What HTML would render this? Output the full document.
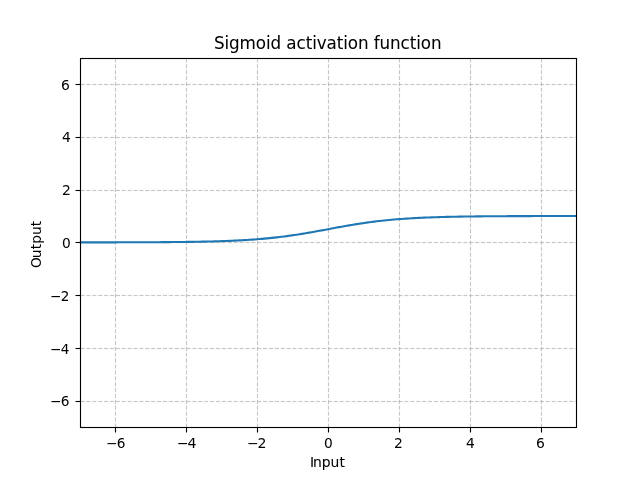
<!DOCTYPE html>
<html lang="en">
<head>
<meta charset="utf-8">
<title>Sigmoid activation function</title>
<style>
html,body{margin:0;padding:0;background:#fff;overflow:hidden}
svg{display:block}
text{font-family:"DejaVu Sans","Liberation Sans",sans-serif;fill:#000}
.g{fill:none;stroke:#b0b0b0;stroke-opacity:.71;stroke-width:1.111;stroke-dasharray:4.111 1.778}
.f{fill:none;stroke:#b0b0b0;stroke-opacity:.05;stroke-width:1;stroke-dasharray:4.111 1.778}
.k{stroke:#000;stroke-width:1.111;fill:none}
</style>
</head>
<body>
<svg width="640" height="480" viewBox="0 0 640 480">
<rect width="640" height="480" fill="#fff"/>
<defs><clipPath id="ax"><rect x="80" y="57.6" width="496" height="369.6"/></clipPath></defs>
<g class="g">
<path d="M115.5 427.5V58.5"/>
<path d="M186.5 427.5V58.5"/>
<path d="M257.5 427.5V58.5"/>
<path d="M328.5 427.5V58.5"/>
<path d="M399.5 427.5V58.5"/>
<path d="M470.5 427.5V58.5"/>
<path d="M541.5 427.5V58.5"/>
<path d="M80.5 401.5H576.5"/>
<path d="M80.5 348.5H576.5"/>
<path d="M80.5 295.5H576.5"/>
<path d="M80.5 242.5H576.5"/>
<path d="M80.5 190.5H576.5"/>
<path d="M80.5 137.5H576.5"/>
<path d="M80.5 84.5H576.5"/>
</g>
<g class="f">
<path d="M80.5 400.5H576.5M80.5 402.5H576.5"/>
<path d="M80.5 347.5H576.5M80.5 349.5H576.5"/>
<path d="M80.5 294.5H576.5M80.5 296.5H576.5"/>
<path d="M80.5 241.5H576.5M80.5 243.5H576.5"/>
<path d="M80.5 189.5H576.5M80.5 191.5H576.5"/>
<path d="M80.5 136.5H576.5M80.5 138.5H576.5"/>
<path d="M80.5 83.5H576.5M80.5 85.5H576.5"/>
</g>
<g class="k">
<path d="M115.5 427.5V432.5"/>
<path d="M186.5 427.5V432.5"/>
<path d="M257.5 427.5V432.5"/>
<path d="M328.5 427.5V432.5"/>
<path d="M399.5 427.5V432.5"/>
<path d="M470.5 427.5V432.5"/>
<path d="M541.5 427.5V432.5"/>
<path d="M80.5 401.5H75.5"/>
<path d="M80.5 348.5H75.5"/>
<path d="M80.5 295.5H75.5"/>
<path d="M80.5 242.5H75.5"/>
<path d="M80.5 190.5H75.5"/>
<path d="M80.5 137.5H75.5"/>
<path d="M80.5 84.5H75.5"/>
</g>
<polyline clip-path="url(#ax)" fill="none" stroke="#1f77b4" stroke-width="2.083" stroke-linejoin="round" stroke-linecap="square" points="80.00,242.38 82.49,242.37 84.98,242.37 87.48,242.37 89.97,242.37 92.46,242.37 94.95,242.36 97.45,242.36 99.94,242.36 102.43,242.35 104.92,242.35 107.42,242.35 109.91,242.34 112.40,242.34 114.89,242.34 117.39,242.33 119.88,242.33 122.37,242.32 124.86,242.31 127.36,242.31 129.85,242.30 132.34,242.29 134.83,242.29 137.33,242.28 139.82,242.27 142.31,242.26 144.80,242.25 147.30,242.24 149.79,242.23 152.28,242.22 154.77,242.20 157.27,242.19 159.76,242.17 162.25,242.16 164.74,242.14 167.24,242.12 169.73,242.10 172.22,242.08 174.71,242.06 177.21,242.03 179.70,242.00 182.19,241.98 184.68,241.95 187.18,241.91 189.67,241.88 192.16,241.84 194.65,241.80 197.15,241.76 199.64,241.71 202.13,241.66 204.62,241.61 207.12,241.56 209.61,241.50 212.10,241.43 214.59,241.37 217.09,241.29 219.58,241.22 222.07,241.14 224.56,241.05 227.06,240.96 229.55,240.86 232.04,240.75 234.53,240.64 237.03,240.52 239.52,240.39 242.01,240.26 244.50,240.12 246.99,239.96 249.49,239.80 251.98,239.64 254.47,239.46 256.96,239.27 259.46,239.07 261.95,238.86 264.44,238.64 266.93,238.40 269.43,238.16 271.92,237.90 274.41,237.63 276.90,237.35 279.40,237.06 281.89,236.75 284.38,236.43 286.87,236.10 289.37,235.76 291.86,235.40 294.35,235.04 296.84,234.66 299.34,234.27 301.83,233.87 304.32,233.45 306.81,233.03 309.31,232.60 311.80,232.17 314.29,231.72 316.78,231.27 319.28,230.82 321.77,230.36 324.26,229.90 326.75,229.43 329.25,228.97 331.74,228.50 334.23,228.04 336.72,227.58 339.22,227.13 341.71,226.68 344.20,226.23 346.69,225.80 349.19,225.37 351.68,224.95 354.17,224.53 356.66,224.13 359.16,223.74 361.65,223.36 364.14,223.00 366.63,222.64 369.13,222.30 371.62,221.97 374.11,221.65 376.60,221.34 379.10,221.05 381.59,220.77 384.08,220.50 386.57,220.24 389.07,220.00 391.56,219.76 394.05,219.54 396.54,219.33 399.04,219.13 401.53,218.94 404.02,218.76 406.51,218.60 409.01,218.44 411.50,218.28 413.99,218.14 416.48,218.01 418.97,217.88 421.47,217.76 423.96,217.65 426.45,217.54 428.94,217.44 431.44,217.35 433.93,217.26 436.42,217.18 438.91,217.11 441.41,217.03 443.90,216.97 446.39,216.90 448.88,216.84 451.38,216.79 453.87,216.74 456.36,216.69 458.85,216.64 461.35,216.60 463.84,216.56 466.33,216.52 468.82,216.49 471.32,216.45 473.81,216.42 476.30,216.40 478.79,216.37 481.29,216.34 483.78,216.32 486.27,216.30 488.76,216.28 491.26,216.26 493.75,216.24 496.24,216.23 498.73,216.21 501.23,216.20 503.72,216.18 506.21,216.17 508.70,216.16 511.20,216.15 513.69,216.14 516.18,216.13 518.67,216.12 521.17,216.11 523.66,216.11 526.15,216.10 528.64,216.09 531.14,216.09 533.63,216.08 536.12,216.07 538.61,216.07 541.11,216.06 543.60,216.06 546.09,216.06 548.58,216.05 551.08,216.05 553.57,216.05 556.06,216.04 558.55,216.04 561.05,216.04 563.54,216.03 566.03,216.03 568.52,216.03 571.02,216.03 573.51,216.03 576.00,216.02"/>
<rect class="k" x="80.5" y="58.5" width="496" height="369" stroke-linejoin="miter"/>
<text transform="translate(115.43 447.50) scale(0.9850 0.9750)" text-anchor="start" font-size="13.889" x="-9.53 1.39" stroke="#000" stroke-width="0.025">−6</text>
<text transform="translate(186.39 447.50) scale(1.0150 1.0150)" text-anchor="start" font-size="13.939" x="-9.18 1.09">−4</text>
<text transform="translate(256.44 447.50) scale(1.0150 0.9650)" text-anchor="start" font-size="13.889" x="-9.53 0.99">−2</text>
<text transform="translate(328.30 447.50) scale(0.9900 1.0300)" text-anchor="start" font-size="13.889" x="-4.41" stroke="#000" stroke-width="0.025">0</text>
<text transform="translate(398.36 447.50) scale(0.9950 0.9700)" text-anchor="start" font-size="13.939" x="-4.41">2</text>
<text transform="translate(470.31 447.50) scale(0.9950 1.0350)" text-anchor="start" font-size="13.889" x="-4.41">4</text>
<text transform="translate(540.37 447.50) scale(1.0000 0.9850)" text-anchor="start" font-size="13.889" x="-4.41">6</text>
<text transform="translate(326.90 466.50) scale(1.0000 0.9850)" text-anchor="start" font-size="13.889" x="-16.97 -13.89 -5.09 3.72 12.52" stroke="#000" stroke-width="0.050">Input</text>
<text transform="translate(41.40 244.80) rotate(-90) scale(1.0000 1.0150)" text-anchor="start" font-size="13.639" x="-23.3 -13.5 -4.4 1.04 9.85 18.65">Output</text>
<text transform="translate(69.60 406.10) scale(0.9900 1.0200)" text-anchor="start" font-size="13.839" x="-19.67 -8.84" stroke="#000" stroke-width="0.025">−6</text>
<text transform="translate(69.60 353.50) scale(0.9800 1.0200)" text-anchor="start" font-size="13.839" x="-19.67 -9.14">−4</text>
<text transform="translate(69.60 300.50) scale(0.9800 1.0200)" text-anchor="start" font-size="13.839" x="-19.67 -9.14" stroke="#000" stroke-width="0.050">−2</text>
<text transform="translate(70.80 247.70) scale(0.9900 1.0300)" text-anchor="start" font-size="13.889" x="-8.83" stroke="#000" stroke-width="0.025">0</text>
<text transform="translate(70.80 194.90) scale(0.9950 0.9700)" text-anchor="start" font-size="13.939" x="-8.83">2</text>
<text transform="translate(70.80 142.10) scale(0.9950 1.0350)" text-anchor="start" font-size="13.889" x="-8.83">4</text>
<text transform="translate(69.80 89.50) scale(1.0000 0.9850)" text-anchor="start" font-size="13.889" x="-8.83">6</text>
<text transform="translate(327.80 49.30) scale(0.9090 0.9700)" text-anchor="start" font-size="18.480" x="-125.26 -113.7 -108.74 -97.08 -79.34 -67.89 -63.12 -51.26 -45.77 -34.32 -24.3 -17.15 -12.1 -1.32 9.84 16.99 22.04 33.19 44.74 50.53 56.94 68.33 80.02 90.05 97.19 102.24 113.4" stroke="#000" stroke-width="0.050">Sigmoid activation function</text>
</svg>
</body>
</html>
